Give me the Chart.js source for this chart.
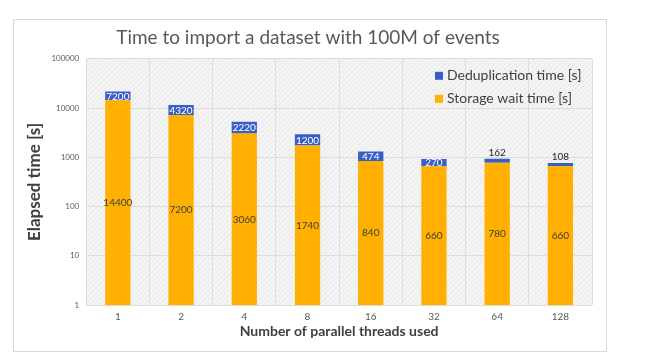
<!DOCTYPE html>
<html>
<head>
<meta charset="utf-8">
<script src="https://cdn.jsdelivr.net/npm/chart.js@4"></script>
<style>
html, body { margin: 0; padding: 0; background: #fff; }
#box { position: absolute; left: 13px; top: 19px; width: 594px; height: 333px; border: 1px solid #d9d9d9; box-sizing: border-box; }
</style>
</head>
<body>
<div id="box"><canvas id="importChart" width="592" height="331"></canvas></div>
<script>
// data
const threads = ['1', '2', '4', '8', '16', '32', '64', '128'];
const storageWait = [14400, 7200, 3060, 1740, 840, 660, 780, 660];
const dedupTime = [7200, 4320, 2220, 1200, 474, 270, 162, 108];
const yTicks = [1, 10, 100, 1000, 10000, 100000];

const ORANGE = '#ffb000';
const BLUE = '#3a5fc4';
const FONT = 'Lato, "Open Sans", sans-serif';

// light hatched background of the plot area
function hatch() {
    const c = document.createElement('canvas');
    c.width = 5; c.height = 5;
    const g = c.getContext('2d');
    g.fillStyle = '#f4f4f4';
    g.fillRect(0, 0, 5, 5);
    g.strokeStyle = '#e6e6e6';
    g.lineWidth = 1;
    g.beginPath();
    g.moveTo(0, 5); g.lineTo(5, 0);
    g.stroke();
    return g.createPattern(c, 'repeat');
}

const plotBg = {
    id: 'plotBg',
    beforeDraw(chart) {
        const a = chart.chartArea, ctx = chart.ctx;
        ctx.save();
        ctx.fillStyle = hatch();
        ctx.fillRect(a.left, a.top, a.right - a.left, a.bottom - a.top);
        ctx.restore();
    }
};

// value labels inside / above the segments
const barLabels = {
    id: 'barLabels',
    afterDatasetsDraw(chart) {
        const ctx = chart.ctx;
        ctx.save();
        ctx.font = '10px ' + FONT;
        ctx.textAlign = 'center';
        ctx.textBaseline = 'middle';
        chart.data.datasets.forEach((ds, di) => {
            chart.getDatasetMeta(di).data.forEach((el, i) => {
                const v = ds.data[i];
                const h = el.base - el.y;
                if (di === 0) {
                    ctx.fillStyle = '#404040';
                    ctx.fillText(v, el.x, (el.y + el.base) / 2);
                } else if (h >= 6) {
                    ctx.fillStyle = '#ffffff';
                    ctx.fillText(v, el.x, (el.y + el.base) / 2 + 0.5);
                } else {
                    ctx.fillStyle = '#262626';
                    ctx.fillText(v, el.x, el.y - 6);
                }
            });
        });
        ctx.restore();
    }
};

// legend drawn inside the plot area, top right
const innerLegend = {
    id: 'innerLegend',
    afterDraw(chart) {
        const a = chart.chartArea, ctx = chart.ctx;
        const items = [
            { text: 'Deduplication time [s]', color: BLUE },
            { text: 'Storage wait time [s]', color: ORANGE }
        ];
        ctx.save();
        ctx.font = '14px ' + FONT;
        ctx.textBaseline = 'middle';
        items.forEach((it, k) => {
            const y = a.top + 17 + k * 23;
            const x = a.right - 157;
            ctx.fillStyle = it.color;
            ctx.fillRect(x, y - 4, 8, 8);
            ctx.fillStyle = '#404040';
            ctx.fillText(it.text, x + 12, y);
        });
        ctx.restore();
    }
};

const ctx = document.getElementById('importChart').getContext('2d');
const importChart = new Chart(ctx, {
    type: 'bar',
    data: {
        labels: threads,
        datasets: [
            { label: 'Storage wait time [s]', data: storageWait, backgroundColor: ORANGE },
            { label: 'Deduplication time [s]', data: dedupTime, backgroundColor: BLUE }
        ]
    },
    options: {
        responsive: false,
        animation: false,
        layout: { padding: { left: 10, right: 14, top: 2, bottom: 11 } },
        datasets: { bar: { categoryPercentage: 1, barPercentage: 0.4 } },
        plugins: {
            legend: { display: false },
            tooltip: { enabled: false },
            title: {
                display: true,
                text: 'Time to import a dataset with 100M of events',
                color: '#595959',
                font: { family: FONT, size: 19, weight: 'normal' },
                padding: { top: 4, bottom: 10 }
            }
        },
        scales: {
            x: {
                stacked: true,
                grid: { color: '#dddddd', drawTicks: false, tickLength: 0 },
                border: { display: false },
                ticks: { color: '#595959', font: { family: FONT, size: 10 }, padding: 6 },
                title: {
                    display: true,
                    text: 'Number of parallel threads used',
                    color: '#404040',
                    font: { family: FONT, size: 14, weight: 'bold' },
                    padding: { top: -6, bottom: 0 }
                }
            },
            y: {
                type: 'logarithmic',
                stacked: true,
                min: 1,
                max: 100000,
                afterBuildTicks(scale) {
                    scale.ticks = yTicks.map(v => ({ value: v }));
                },
                grid: { color: '#dddddd', drawTicks: false, tickLength: 0 },
                border: { display: false },
                ticks: {
                    color: '#595959',
                    font: { family: FONT, size: 8 },
                    padding: 7,
                    callback: v => String(v)
                },
                title: {
                    display: true,
                    text: 'Elapsed time [s]',
                    color: '#404040',
                    font: { family: FONT, size: 17, weight: 'bold' },
                    padding: { top: 0, bottom: 0 }
                }
            }
        }
    },
    plugins: [plotBg, barLabels, innerLegend]
});
</script>
</body>
</html>
